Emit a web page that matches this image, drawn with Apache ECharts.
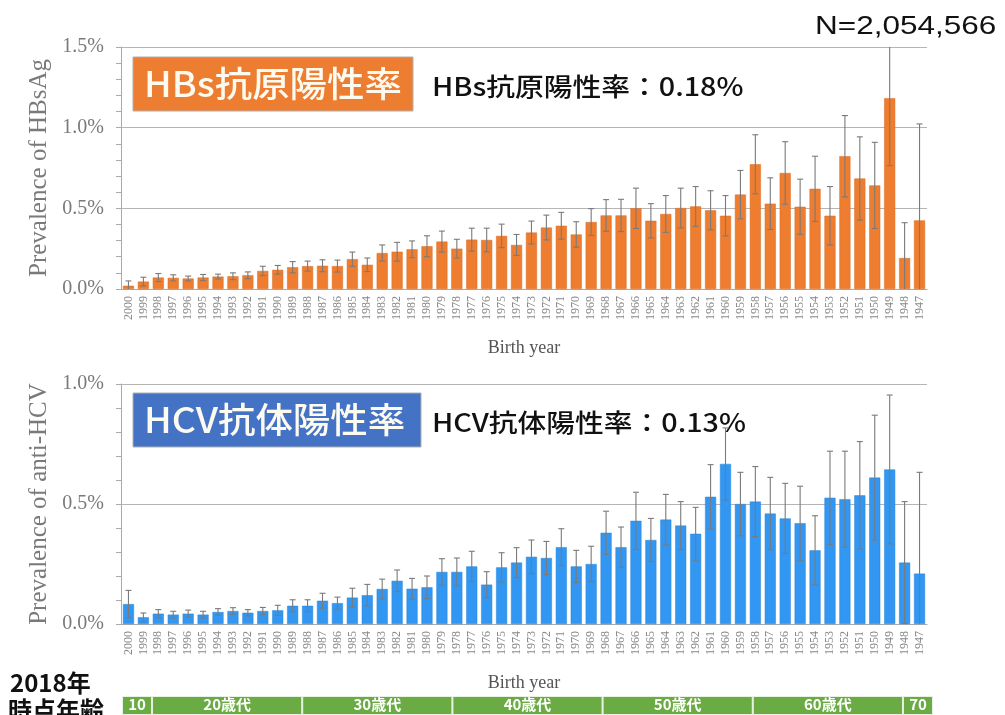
<!DOCTYPE html>
<html>
<head>
<meta charset="utf-8">
<script src="https://cdn.jsdelivr.net/npm/echarts@6/dist/echarts.min.js"></script>
<style>
  html, body { margin: 0; padding: 0; background: #fff; }
  #chart { width: 1005px; height: 715px; }
</style>
</head>
<body>
<div id="chart"></div>
<script>
// birth years, left to right
const years = ['2000', '1999', '1998', '1997', '1996', '1995', '1994', '1993', '1992', '1991',
  '1990', '1989', '1988', '1987', '1986', '1985', '1984', '1983', '1982', '1981',
  '1980', '1979', '1978', '1977', '1976', '1975', '1974', '1973', '1972', '1971',
  '1970', '1969', '1968', '1967', '1966', '1965', '1964', '1963', '1962', '1961',
  '1960', '1959', '1958', '1957', '1956', '1955', '1954', '1953', '1952', '1951',
  '1950', '1949', '1948', '1947'];

// HBs antigen positive rate (%) and error half-width
const hbsValues = [0.02, 0.046, 0.071, 0.069, 0.065, 0.071, 0.077, 0.079, 0.085, 0.112,
  0.119, 0.135, 0.142, 0.144, 0.142, 0.185, 0.15, 0.223, 0.231, 0.246,
  0.265, 0.294, 0.25, 0.306, 0.304, 0.329, 0.273, 0.35, 0.381, 0.392,
  0.338, 0.415, 0.456, 0.456, 0.5, 0.423, 0.465, 0.502, 0.512, 0.488,
  0.454, 0.585, 0.773, 0.529, 0.719, 0.51, 0.621, 0.454, 0.823, 0.685,
  0.642, 1.183, 0.192, 0.425];
const hbsErr = [0.03, 0.027, 0.025, 0.019, 0.015, 0.019, 0.015, 0.021, 0.021, 0.029,
  0.027, 0.035, 0.031, 0.037, 0.037, 0.044, 0.042, 0.05, 0.058, 0.052,
  0.065, 0.065, 0.058, 0.071, 0.073, 0.073, 0.065, 0.071, 0.077, 0.083,
  0.079, 0.083, 0.098, 0.1, 0.125, 0.106, 0.114, 0.123, 0.123, 0.121,
  0.125, 0.15, 0.183, 0.16, 0.194, 0.171, 0.202, 0.181, 0.252, 0.258,
  0.267, 0.418, 0.219, 0.598];

// HCV antibody positive rate (%) and error half-width
const hcvValues = [0.083, 0.028, 0.043, 0.039, 0.043, 0.039, 0.05, 0.054, 0.047, 0.054,
  0.057, 0.076, 0.076, 0.097, 0.087, 0.11, 0.12, 0.146, 0.18, 0.147,
  0.153, 0.217, 0.217, 0.24, 0.164, 0.236, 0.256, 0.28, 0.275, 0.32,
  0.24, 0.25, 0.38, 0.32, 0.43, 0.35, 0.435, 0.41, 0.376, 0.53,
  0.667, 0.5, 0.51, 0.46, 0.44, 0.42, 0.307, 0.526, 0.52, 0.536,
  0.61, 0.644, 0.256, 0.21];
const hcvErr = [0.057, 0.018, 0.017, 0.014, 0.015, 0.014, 0.014, 0.014, 0.013, 0.015,
  0.021, 0.025, 0.025, 0.031, 0.025, 0.039, 0.045, 0.041, 0.045, 0.043,
  0.047, 0.055, 0.058, 0.063, 0.054, 0.061, 0.062, 0.07, 0.069, 0.077,
  0.067, 0.074, 0.09, 0.084, 0.119, 0.09, 0.105, 0.1, 0.11, 0.134,
  0.15, 0.132, 0.146, 0.151, 0.146, 0.154, 0.144, 0.194, 0.2, 0.224,
  0.26, 0.31, 0.254, 0.422];

const hbsTicks = [0, 0.5, 1.0, 1.5];
const hcvTicks = [0, 0.5, 1.0];

// age in 2018: label and number of birth years covered
const ageLabels = ['10', '20歳代', '30歳代', '40歳代', '50歳代', '60歳代', '70'];
const ageSpans = [2, 10, 10, 10, 10, 10, 2];

const serif = '"Liberation Serif", "DejaVu Serif", serif';
const sans = '"Noto Sans CJK JP", "Noto Sans", sans-serif';

function errData(vals, errs) {
  return vals.map((v, i) => [i, v - errs[i], v + errs[i]]);
}

function renderErr(params, api) {
  const x = api.value(0);
  const top = api.coord([x, api.value(2)]);
  const bot = api.coord([x, api.value(1)]);
  const cs = params.coordSys;
  const yTop = Math.max(top[1], cs.y);
  const yBot = Math.min(bot[1], cs.y + cs.height);
  const st = { stroke: '#7a7a7a', lineWidth: 1.1 };
  const kids = [{ type: 'line', shape: { x1: top[0], y1: yTop, x2: top[0], y2: yBot }, style: st }];
  if (yTop === top[1]) kids.push({ type: 'line', shape: { x1: top[0] - 3, y1: yTop, x2: top[0] + 3, y2: yTop }, style: st });
  if (yBot === bot[1]) kids.push({ type: 'line', shape: { x1: top[0] - 3, y1: yBot, x2: top[0] + 3, y2: yBot }, style: st });
  return { type: 'group', children: kids };
}

function yAxisFor(idx, ticks, name) {
  return {
    type: 'value', gridIndex: idx,
    min: ticks[0], max: ticks[ticks.length - 1], interval: 0.5,
    name: name, nameLocation: 'middle', nameGap: 65,
    nameTextStyle: { fontFamily: serif, fontSize: 25, color: '#7a7a7a' },
    axisLine: { show: true, lineStyle: { color: '#aaa' } },
    axisTick: { show: true, length: 5, lineStyle: { color: '#aaa' } },
    minorTick: { show: true, splitNumber: 5, length: 5, lineStyle: { color: '#aaa' } },
    splitLine: { lineStyle: { color: '#b5b5b5', width: 1 } },
    axisLabel: {
      margin: 17, fontFamily: serif, fontSize: 20, color: '#7a7a7a',
      formatter: v => v.toFixed(1) + '%'
    }
  };
}

function xAxisFor(idx) {
  return {
    type: 'category', gridIndex: idx, data: years,
    name: 'Birth year', nameLocation: 'middle', nameGap: 50,
    nameTextStyle: { fontFamily: serif, fontSize: 18, color: '#555' },
    axisLine: { lineStyle: { color: '#aaa' } },
    axisTick: { show: false },
    axisLabel: { interval: 0, rotate: 90, margin: 7, fontFamily: serif, fontSize: 12, color: '#888' }
  };
}

function titleBlock(y, color, boxW, label, summary) {
  return [
    { type: 'rect', shape: { x: 133, y: y, width: boxW, height: 54 },
      style: { fill: color, stroke: '#b0b0b0', lineWidth: 1 } },
    { type: 'text', x: 144, y: y + 27, scaleX: 1.07,
      style: { text: label, fill: '#fdfbf0', font: '500 35px ' + sans, textVerticalAlign: 'middle' } },
    { type: 'text', x: 432, y: y + 29, scaleX: 1.15,
      style: { text: summary, fill: '#111', font: '500 25px ' + sans, textVerticalAlign: 'middle' } }
  ];
}

const chart = echarts.init(document.getElementById('chart'));

const ageSeries = ageLabels.map((lab, i) => ({
  type: 'bar', xAxisIndex: 2, yAxisIndex: 2, stack: 'age',
  barWidth: '100%', data: [ageSpans[i]],
  itemStyle: { color: '#6aab44', borderColor: '#e8f2e0', borderWidth: 1 },
  label: { show: true, position: 'inside', offset: [0, -1], formatter: lab, color: '#fff', fontFamily: sans, fontWeight: 'bold', fontSize: 15 },
  silent: true
}));

chart.setOption({
  animation: false,
  grid: [
    { left: 121, top: 47, width: 806, height: 242 },
    { left: 121, top: 384, width: 806, height: 240 },
    { left: 122, top: 696, width: 811, height: 22 }
  ],
  xAxis: [
    xAxisFor(0), xAxisFor(1),
    { type: 'value', gridIndex: 2, min: 0, max: 54, show: false }
  ],
  yAxis: [
    yAxisFor(0, hbsTicks, 'Prevalence of HBsAg'),
    yAxisFor(1, hcvTicks, 'Prevalence of anti-HCV'),
    { type: 'category', gridIndex: 2, data: ['age'], show: false }
  ],
  series: [
    { type: 'bar', xAxisIndex: 0, yAxisIndex: 0, data: hbsValues, barCategoryGap: '26%',
      itemStyle: { color: '#ee7d2f', borderColor: '#d86b22', borderWidth: 0.5 } },
    { type: 'custom', xAxisIndex: 0, yAxisIndex: 0, data: errData(hbsValues, hbsErr),
      renderItem: renderErr, encode: { x: 0, y: [1, 2] }, z: 5 },
    { type: 'bar', xAxisIndex: 1, yAxisIndex: 1, data: hcvValues, barCategoryGap: '26%',
      itemStyle: { color: '#3197f2', borderColor: '#2a84d6', borderWidth: 0.5 } },
    { type: 'custom', xAxisIndex: 1, yAxisIndex: 1, data: errData(hcvValues, hcvErr),
      renderItem: renderErr, encode: { x: 0, y: [1, 2] }, z: 5 }
  ].concat(ageSeries),
  graphic: [
    ...titleBlock(57, '#ed7d31', 280, 'HBs抗原陽性率', 'HBs抗原陽性率：0.18%'),
    ...titleBlock(393, '#4472c4', 288, 'HCV抗体陽性率', 'HCV抗体陽性率：0.13%'),
    { type: 'text', x: 815, y: 27, scaleX: 1.26,
      style: { text: 'N=2,054,566', fill: '#111', font: '500 25px "Liberation Sans", Arial, sans-serif', textVerticalAlign: 'middle' } },
    { type: 'text', x: 10, y: 683, scaleX: 1.0,
      style: { text: '2018年', fill: '#111', font: 'bold 24px ' + sans, textVerticalAlign: 'middle' } },
    { type: 'text', x: 8, y: 710, scaleX: 1.0,
      style: { text: '時点年齢', fill: '#111', font: 'bold 24px ' + sans, textVerticalAlign: 'middle' } }
  ]
});
</script>
</body>
</html>
